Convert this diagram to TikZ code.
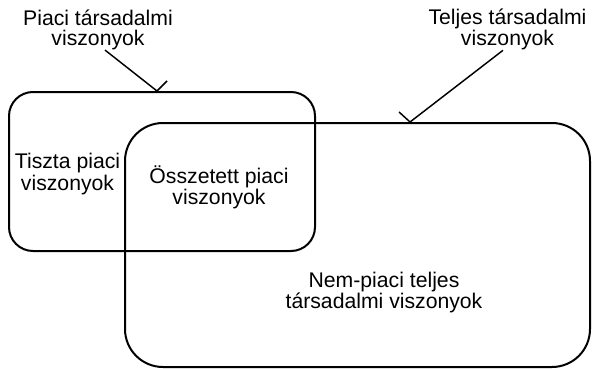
\documentclass[tikz,border=0pt]{standalone}
\usepackage{fontspec}
\setmainfont{Liberation Sans}
\usetikzlibrary{positioning}

\begin{document}
\begin{tikzpicture}[x = 0.75pt, y = -0.75pt,
	felirat/.style = {align = center, inner sep = 0pt, font = \fontsize{15.9}{14.7}\selectfont},
	doboz/.style = {draw, line width = 1.5pt, inner sep = 0pt, rounded corners = #1},
	mutato/.style = {line width = 1.1pt}]
	\useasboundingbox (0, 0) rectangle (592, 368);
	% a ket halmaz
	\node[doboz = 18pt, minimum width = 229.5pt, minimum height = 119.25pt] (piaci) at (162, 171.5) {};
	\node[doboz = 28.5pt, minimum width = 348.75pt, minimum height = 183pt] (teljes) at (357.5, 245) {};
	% feliratok
	\node[felirat] (piacifelirat) at (98, 30) {Piaci társadalmi\\viszonyok};
	\node[felirat] (teljesfelirat) at (507.5, 29.5) {Teljes társadalmi\\viszonyok};
	\node[felirat] (tiszta) at (67.5, 174) {Tiszta piaci\\viszonyok};
	\node[felirat] (osszetett) at (219, 187.5) {Összetett piaci\\viszonyok};
	\node[felirat] (nempiaci) at (384, 292.5) {Nem-piaci teljes\\társadalmi viszonyok};
	% mutatok
	\coordinate (piacicsucs) at ([xshift = -3.75pt]piaci.north);
	\coordinate (teljescsucs) at ([xshift = 39.4pt]teljes.north);
	\draw[mutato] ([xshift = 5.25pt]piacifelirat.south) -- (piacicsucs) -- ++(10, -10);
	\draw[mutato] ([xshift = -3.4pt]teljesfelirat.south) -- (teljescsucs) -- ++(-11, -10);
\end{tikzpicture}
\end{document}
